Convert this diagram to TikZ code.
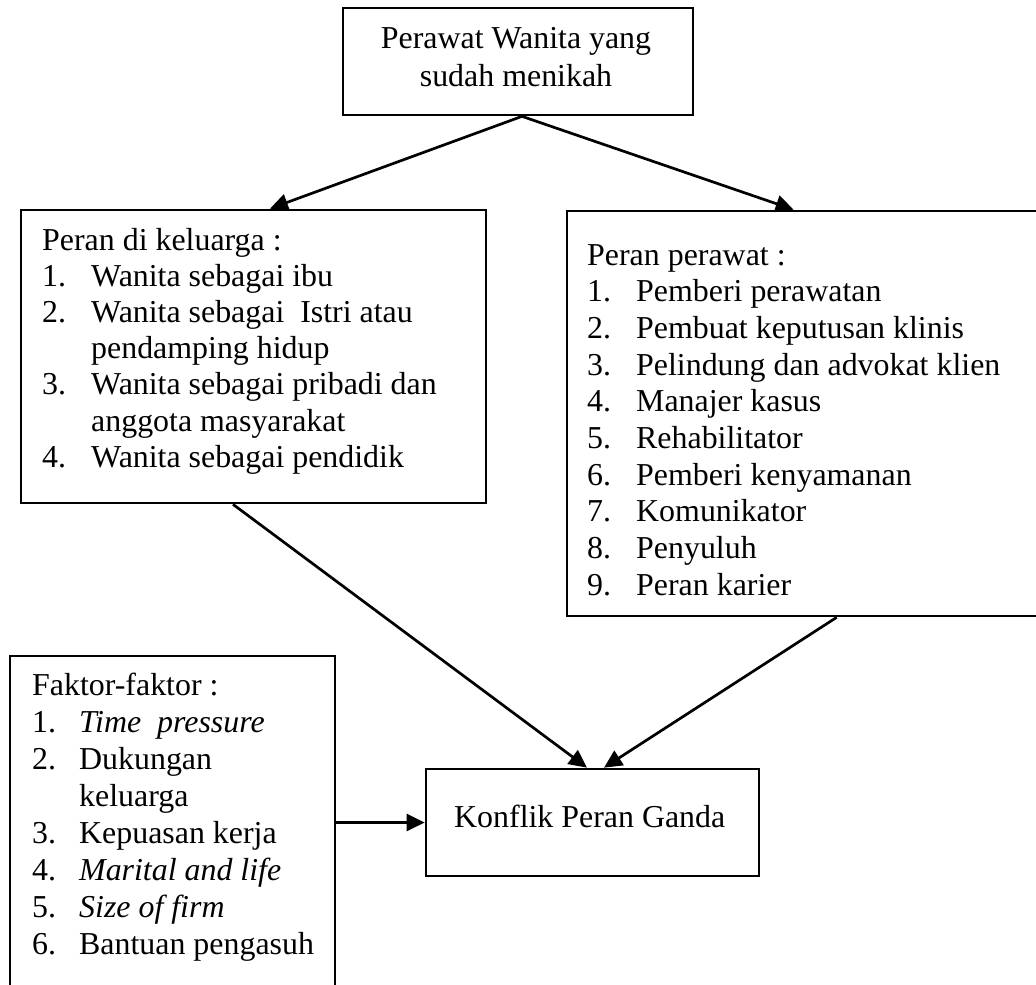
\documentclass[tikz,border=0pt]{standalone}
\usepackage{fontspec}
\setmainfont{Liberation Serif}
\usetikzlibrary{arrows.meta}
\newcommand\lnum[2]{\makebox[#1][l]{#2}}
\begin{document}
\begin{tikzpicture}[x=1pt,y=-1pt]
\tikzset{
  boxnode/.style={draw, line width=2.7pt, inner sep=0pt},
  txt/.style={inner sep=0pt, anchor=base west, font=\fontsize{31.9pt}{36.6pt}\selectfont},
  conn/.style={line width=2.7pt, -{Triangle[length=18pt,width=17pt]}},
}
\useasboundingbox (0,0) rectangle (1036,985);
\clip (0,0) rectangle (1036,985);
\fill[white] (0,0) rectangle (1036,985);

% boxes
\node[boxnode, minimum width=350pt, minimum height=107pt] (top) at (518,61.5) {};
\node[boxnode, minimum width=465pt, minimum height=293pt] (fam) at (253.5,356.5) {};
\node[boxnode, minimum width=520pt, minimum height=405pt] (nurse) at (827,413.5) {};
\node[boxnode, minimum width=325pt, minimum height=360pt] (fak) at (172.5,836) {};
\node[boxnode, minimum width=333pt, minimum height=107pt] (kon) at (592.5,822.5) {};

% texts
\node[txt, anchor=base, font=\fontsize{31.9pt}{38pt}\selectfont] (toptxt) at (516,48)
 {\begin{tabular}[t]{@{}c@{}}Perawat Wanita yang\\ sudah menikah\end{tabular}};

\node[txt, font=\fontsize{31.9pt}{36.2pt}\selectfont] (famtxt) at (42,250)
 {\begin{tabular}[t]{@{}l@{}}
 Peran di keluarga :\\
 \lnum{49pt}{1.}Wanita sebagai ibu\\
 \lnum{49pt}{2.}Wanita sebagai~ Istri atau\\
 \lnum{49pt}{}pendamping hidup\\
 \lnum{49pt}{3.}Wanita sebagai pribadi dan\\
 \lnum{49pt}{}anggota masyarakat\\
 \lnum{49pt}{4.}Wanita sebagai pendidik
 \end{tabular}};

\node[txt, font=\fontsize{31.9pt}{36.7pt}\selectfont] (nursetxt) at (587,265)
 {\begin{tabular}[t]{@{}l@{}}
 Peran perawat :\\
 \lnum{49pt}{1.}Pemberi perawatan\\
 \lnum{49pt}{2.}Pembuat keputusan klinis\\
 \lnum{49pt}{3.}Pelindung dan advokat klien\\
 \lnum{49pt}{4.}Manajer kasus\\
 \lnum{49pt}{5.}Rehabilitator\\
 \lnum{49pt}{6.}Pemberi kenyamanan\\
 \lnum{49pt}{7.}Komunikator\\
 \lnum{49pt}{8.}Penyuluh\\
 \lnum{49pt}{9.}Peran karier
 \end{tabular}};

\node[txt, font=\fontsize{31.9pt}{37pt}\selectfont] (faktxt) at (32,695)
 {\begin{tabular}[t]{@{}l@{}}
 Faktor-faktor :\\
 \lnum{47pt}{1.}\textit{Time~ pressure}\\
 \lnum{47pt}{2.}Dukungan\\
 \lnum{47pt}{}keluarga\\
 \lnum{47pt}{3.}Kepuasan kerja\\
 \lnum{47pt}{4.}\textit{Marital and life}\\
 \lnum{47pt}{5.}\textit{Size of firm}\\
 \lnum{47pt}{6.}Bantuan pengasuh
 \end{tabular}};

\node[txt] (kontxt) at (454,827) {Konflik Peran Ganda};

% connectors
\draw[conn] ([xshift=4pt]top.south) -- ([xshift=16.5pt]fam.north);
\draw[conn] ([xshift=4pt]top.south) -- ([xshift=228pt]nurse.north west);
\draw[conn] ([xshift=-20.5pt]fam.south) -- ([xshift=-5.5pt]kon.north);
\draw[conn] ([xshift=271pt]nurse.south west) -- ([xshift=11.5pt]kon.north);
\draw[conn] (fak.east |- kon.west) -- (kon.west);
\end{tikzpicture}
\end{document}
